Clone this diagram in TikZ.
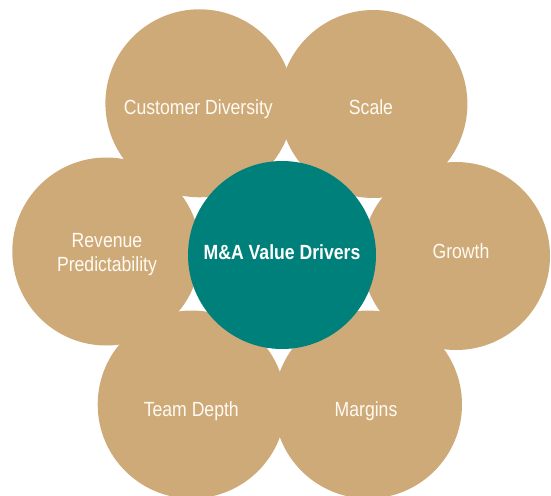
\documentclass[tikz,border=0pt]{standalone}
\usepackage{fontspec}
\setmainfont{Liberation Sans}[FakeStretch=0.86]
\definecolor{sand}{RGB}{207,170,121}
\definecolor{teal}{RGB}{0,128,122}
\definecolor{cream}{RGB}{255,250,242}
\begin{document}
\begin{tikzpicture}[x=1pt,y=-1pt,
  petal/.style={circle,fill=sand,minimum size=188pt,inner sep=0pt},
  hub/.style={circle,fill=teal,minimum size=188pt,inner sep=0pt},
  caption/.style={anchor=base,text=cream,font=\fontsize{20.5}{24.5}\selectfont,align=center,inner sep=0pt},
  hubcaption/.style={caption,text=white,font=\fontsize{20.5}{24.5}\selectfont\bfseries}]
\useasboundingbox (0,0) rectangle (551,495);
% outer ring of drivers
\node[petal] (cd) at (199.4,103.3) {};
\node[petal] (sc) at (373.4,104) {};
\node[petal] (rp) at (106.3,251.5) {};
\node[petal] (gr) at (456,256) {};
\node[petal] (td) at (191.7,404.5) {};
\node[petal] (mg) at (368,404.5) {};
% central hub
\node[hub] (hub) at (282,255) {};
% captions (base anchor sits on the last line's baseline)
\node[caption] (tcd) at (198.3,114.3) {Customer Diversity};
\node[caption] (tsc) at (371,114.3) {Scale};
\node[caption] (trp) at (107,271.7) {Revenue\\Predictability};
\node[caption] (tgr) at (461,258.3) {Growth};
\node[caption] (ttd) at (191.3,416.7) {Team Depth};
\node[caption] (tmg) at (366,416.7) {Margins};
\node[hubcaption] (thub) at (282,259) {M\&A Value Drivers};
\end{tikzpicture}
\end{document}
